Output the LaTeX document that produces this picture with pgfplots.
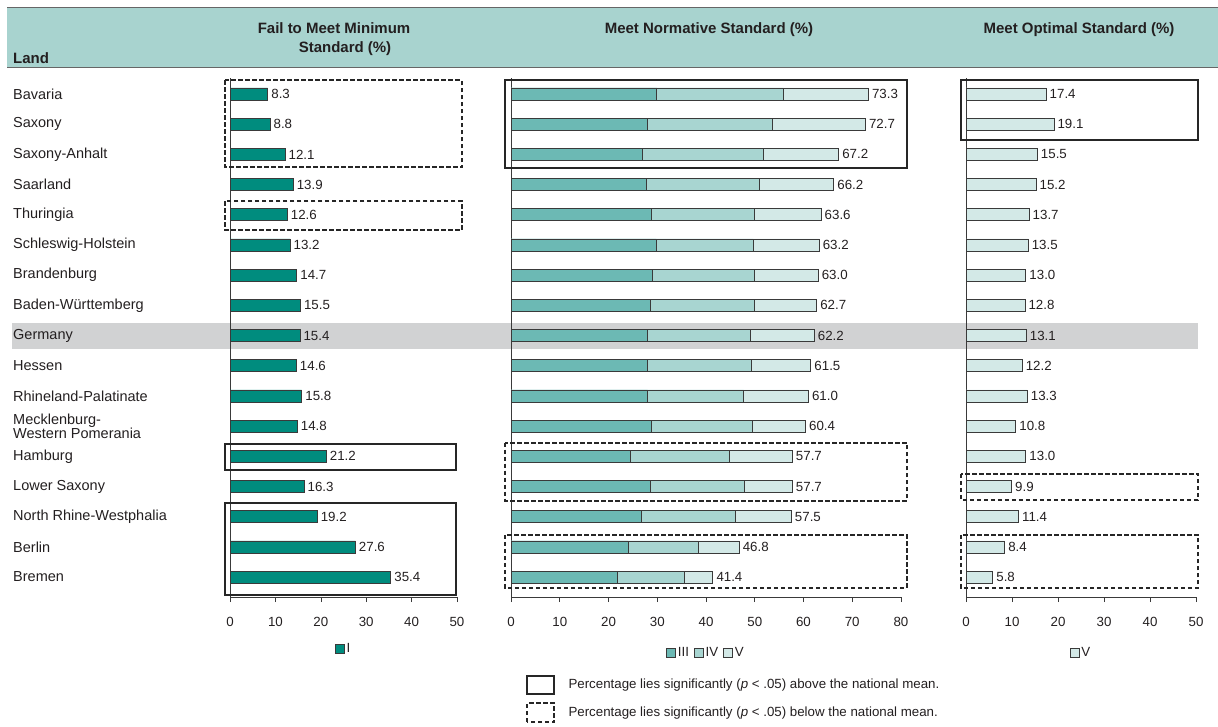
\documentclass[border=0pt]{standalone}
\usepackage{fontspec}
\setmainfont{Liberation Sans}
\usepackage{pgfplots}
\pgfplotsset{compat=1.18}
\usepackage{pgfplotstable}
\definecolor{cI}{HTML}{008C7E}
\definecolor{cIII}{HTML}{6CB9B4}
\definecolor{cIV}{HTML}{A8D5D1}
\definecolor{cV}{HTML}{D3E9E7}
\definecolor{hdr}{HTML}{A8D3CF}
\definecolor{gband}{HTML}{D1D2D3}
\definecolor{txt}{HTML}{231F20}
\definecolor{edge}{HTML}{3A3A3A}
\pgfkeys{/pgf/number format/assume math mode=true}
\newcommand\numfont{\fontsize{13.3}{16}\selectfont}
\newcommand\lblfont{\fontsize{14.5}{13.5}\selectfont}
\newcommand\hdrfont{\bfseries\fontsize{15}{18}\selectfont}

\pgfplotstableread{
idx I
0 8.3
1 8.8
2 12.1
3 13.9
4 12.6
5 13.2
6 14.7
7 15.5
8 15.4
9 14.6
10 15.8
11 14.8
12 21.2
13 16.3
14 19.2
15 27.6
16 35.4
}\tabI

\pgfplotstableread{
idx III IV V total
0 29.9 26.0 17.4 73.3
1 28.0 25.6 19.1 72.7
2 27.0 24.7 15.5 67.2
3 27.8 23.2 15.2 66.2
4 28.8 21.1 13.7 63.6
5 29.8 19.9 13.5 63.2
6 28.9 21.1 13.0 63.0
7 28.6 21.3 12.8 62.7
8 28.0 21.1 13.1 62.2
9 28.0 21.3 12.2 61.5
10 28.0 19.7 13.3 61.0
11 28.8 20.8 10.8 60.4
12 24.4 20.3 13.0 57.7
13 28.6 19.2 9.9 57.7
14 26.7 19.4 11.4 57.5
15 24.0 14.4 8.4 46.8
16 21.9 13.7 5.8 41.4
}\tabN

\tikzset{
  solidbox/.style={draw=black!85, line width=2pt},
  dashbox/.style={draw=black!85, line width=2pt, dash pattern=on 4.5pt off 2.5pt},
}
\pgfplotsset{
  panel/.style={
    scale only axis, height=519pt, anchor=south west,
    xbar, bar width=12pt,
    ymin=-16.66, ymax=0.53,
    axis x line*=bottom, axis y line*=left,
    axis line style={-, edge, line width=0.8pt},
    xtick distance=10, tick align=outside, major tick length=5pt,
    x tick style={edge, line width=0.6pt},
    tick label style={font=\numfont, text=txt},
    xticklabel style={yshift=-12pt},
    enlargelimits=false, clip=false,
    nodes near coords style={font=\numfont, text=txt, anchor=west},
    legend style={draw=none, fill=none, font=\numfont, text=txt,
      anchor=center, legend columns=-1,
      /tikz/every even column/.append style={column sep=3pt},
      /tikz/every odd column/.append style={column sep=0pt}},
  },
  sq legend/.style={legend image code/.code={\draw[##1,draw=edge,line width=0.7pt] (0pt,-4.5pt) rectangle (9pt,4.5pt);}},
  barst/.style={draw=edge, line width=0.7pt, bar shift=0pt, sq legend},
}
\newcommand\vfmt{\pgfmathprintnumber[fixed,fixed zerofill,precision=1]{\pgfplotspointmeta}}

\begin{document}
\begin{tikzpicture}[x=1pt,y=1pt]
\path[use as bounding box] (0pt,0pt) rectangle (1218pt,726pt);
% header band
\fill[hdr] (7pt,659pt) rectangle (1218pt,719pt);
\draw[black!60, line width=0.8pt] (7pt,719pt) -- (1218pt,719pt) (7pt,659pt) -- (1218pt,659pt);
% Germany band
\fill[gband] (12pt,377pt) rectangle (1198pt,403pt);
% header texts
\node[anchor=base west, font=\hdrfont, text=txt, inner sep=0pt] at (13pt,662pt) {Land};
\node[anchor=base, font=\hdrfont, text=txt, inner sep=0pt] at (334pt,692pt) {Fail to Meet Minimum};
\node[anchor=base, font=\hdrfont, text=txt, inner sep=0pt] at (345pt,673pt) {Standard (\%)};
\node[anchor=base, font=\hdrfont, text=txt, inner sep=0pt] at (709pt,692pt) {Meet Normative Standard (\%)};
\node[anchor=base, font=\hdrfont, text=txt, inner sep=0pt] at (1079pt,692pt) {Meet Optimal Standard (\%)};

% Left panel
\begin{axis}[panel, at={(230pt,129pt)}, width=227pt, xmin=0, xmax=50,
  ytick={-16,...,0},
  yticklabels={Bremen,Berlin,North Rhine-Westphalia,Lower Saxony,Hamburg,{Mecklenburg-\\Western Pomerania},Rhineland-Palatinate,Hessen,Germany,Baden-Württemberg,Brandenburg,Schleswig-Holstein,Thuringia,Saarland,Saxony-Anhalt,Saxony,Bavaria},
  yticklabel style={anchor=west, align=left, font=\lblfont, inner sep=0pt, xshift=-212pt},
  y tick style={draw=none},
  legend style={at={(0.5,-0.1)}},
]
\addplot[barst, fill=cI, nodes near coords=\vfmt, point meta=x]
  table[x=I, y expr=-\thisrow{idx}] {\tabI};
\legend{I}
\draw[dashbox] (axis cs:-1.1,0.45) rectangle (axis cs:51.1,-2.43);
\draw[dashbox] (axis cs:-1.1,-3.55) rectangle (axis cs:51.1,-4.5);
\draw[solidbox] (axis cs:-1.1,-11.58) rectangle (axis cs:49.8,-12.45);
\draw[solidbox] (axis cs:-1.1,-13.55) rectangle (axis cs:49.8,-16.6);
\end{axis}

% Middle panel (segments III, IV, V drawn as overlapping bars from 0)
\begin{axis}[panel, at={(511pt,129pt)}, width=390pt, xmin=0, xmax=80,
  ytick=\empty, reverse legend,
  legend style={at={(0.5,-0.108)}},
]
\addplot[barst, fill=cV, nodes near coords=\vfmt, point meta=x]
  table[x=total, y expr=-\thisrow{idx}] {\tabN};
\addplot[barst, fill=cIV]
  table[x expr=\thisrow{III}+\thisrow{IV}, y expr=-\thisrow{idx}] {\tabN};
\addplot[barst, fill=cIII]
  table[x=III, y expr=-\thisrow{idx}] {\tabN};
\legend{V,IV,III}
\draw[solidbox] (axis cs:-1.23,0.47) rectangle (axis cs:81.2,-2.45);
\draw[dashbox] (axis cs:-1.23,-11.55) rectangle (axis cs:81.2,-13.47);
\draw[dashbox] (axis cs:-1.23,-14.6) rectangle (axis cs:81.2,-16.36);
\end{axis}

% Right panel
\begin{axis}[panel, at={(966pt,129pt)}, width=230pt, xmin=0, xmax=50,
  ytick=\empty,
  legend style={at={(0.5,-0.108)}},
]
\addplot[barst, fill=cV, nodes near coords=\vfmt, point meta=x]
  table[x=V, y expr=-\thisrow{idx}] {\tabN};
\legend{V}
\draw[solidbox] (axis cs:-1.1,0.46) rectangle (axis cs:50.5,-1.52);
\draw[dashbox] (axis cs:-1.1,-12.58) rectangle (axis cs:50.5,-13.44);
\draw[dashbox] (axis cs:-1.1,-14.6) rectangle (axis cs:50.5,-16.36);
\end{axis}

% significance legend
\draw[solidbox] (527pt,32pt) rectangle (554pt,50pt);
\node[anchor=west, font=\numfont, text=txt] at (565pt,41pt) {Percentage lies significantly (\textit{p} < .05) above the national mean.};
\draw[dashbox] (527pt,4pt) rectangle (554pt,23pt);
\node[anchor=west, font=\numfont, text=txt] at (565pt,13pt) {Percentage lies significantly (\textit{p} < .05) below the national mean.};
\end{tikzpicture}
\end{document}
